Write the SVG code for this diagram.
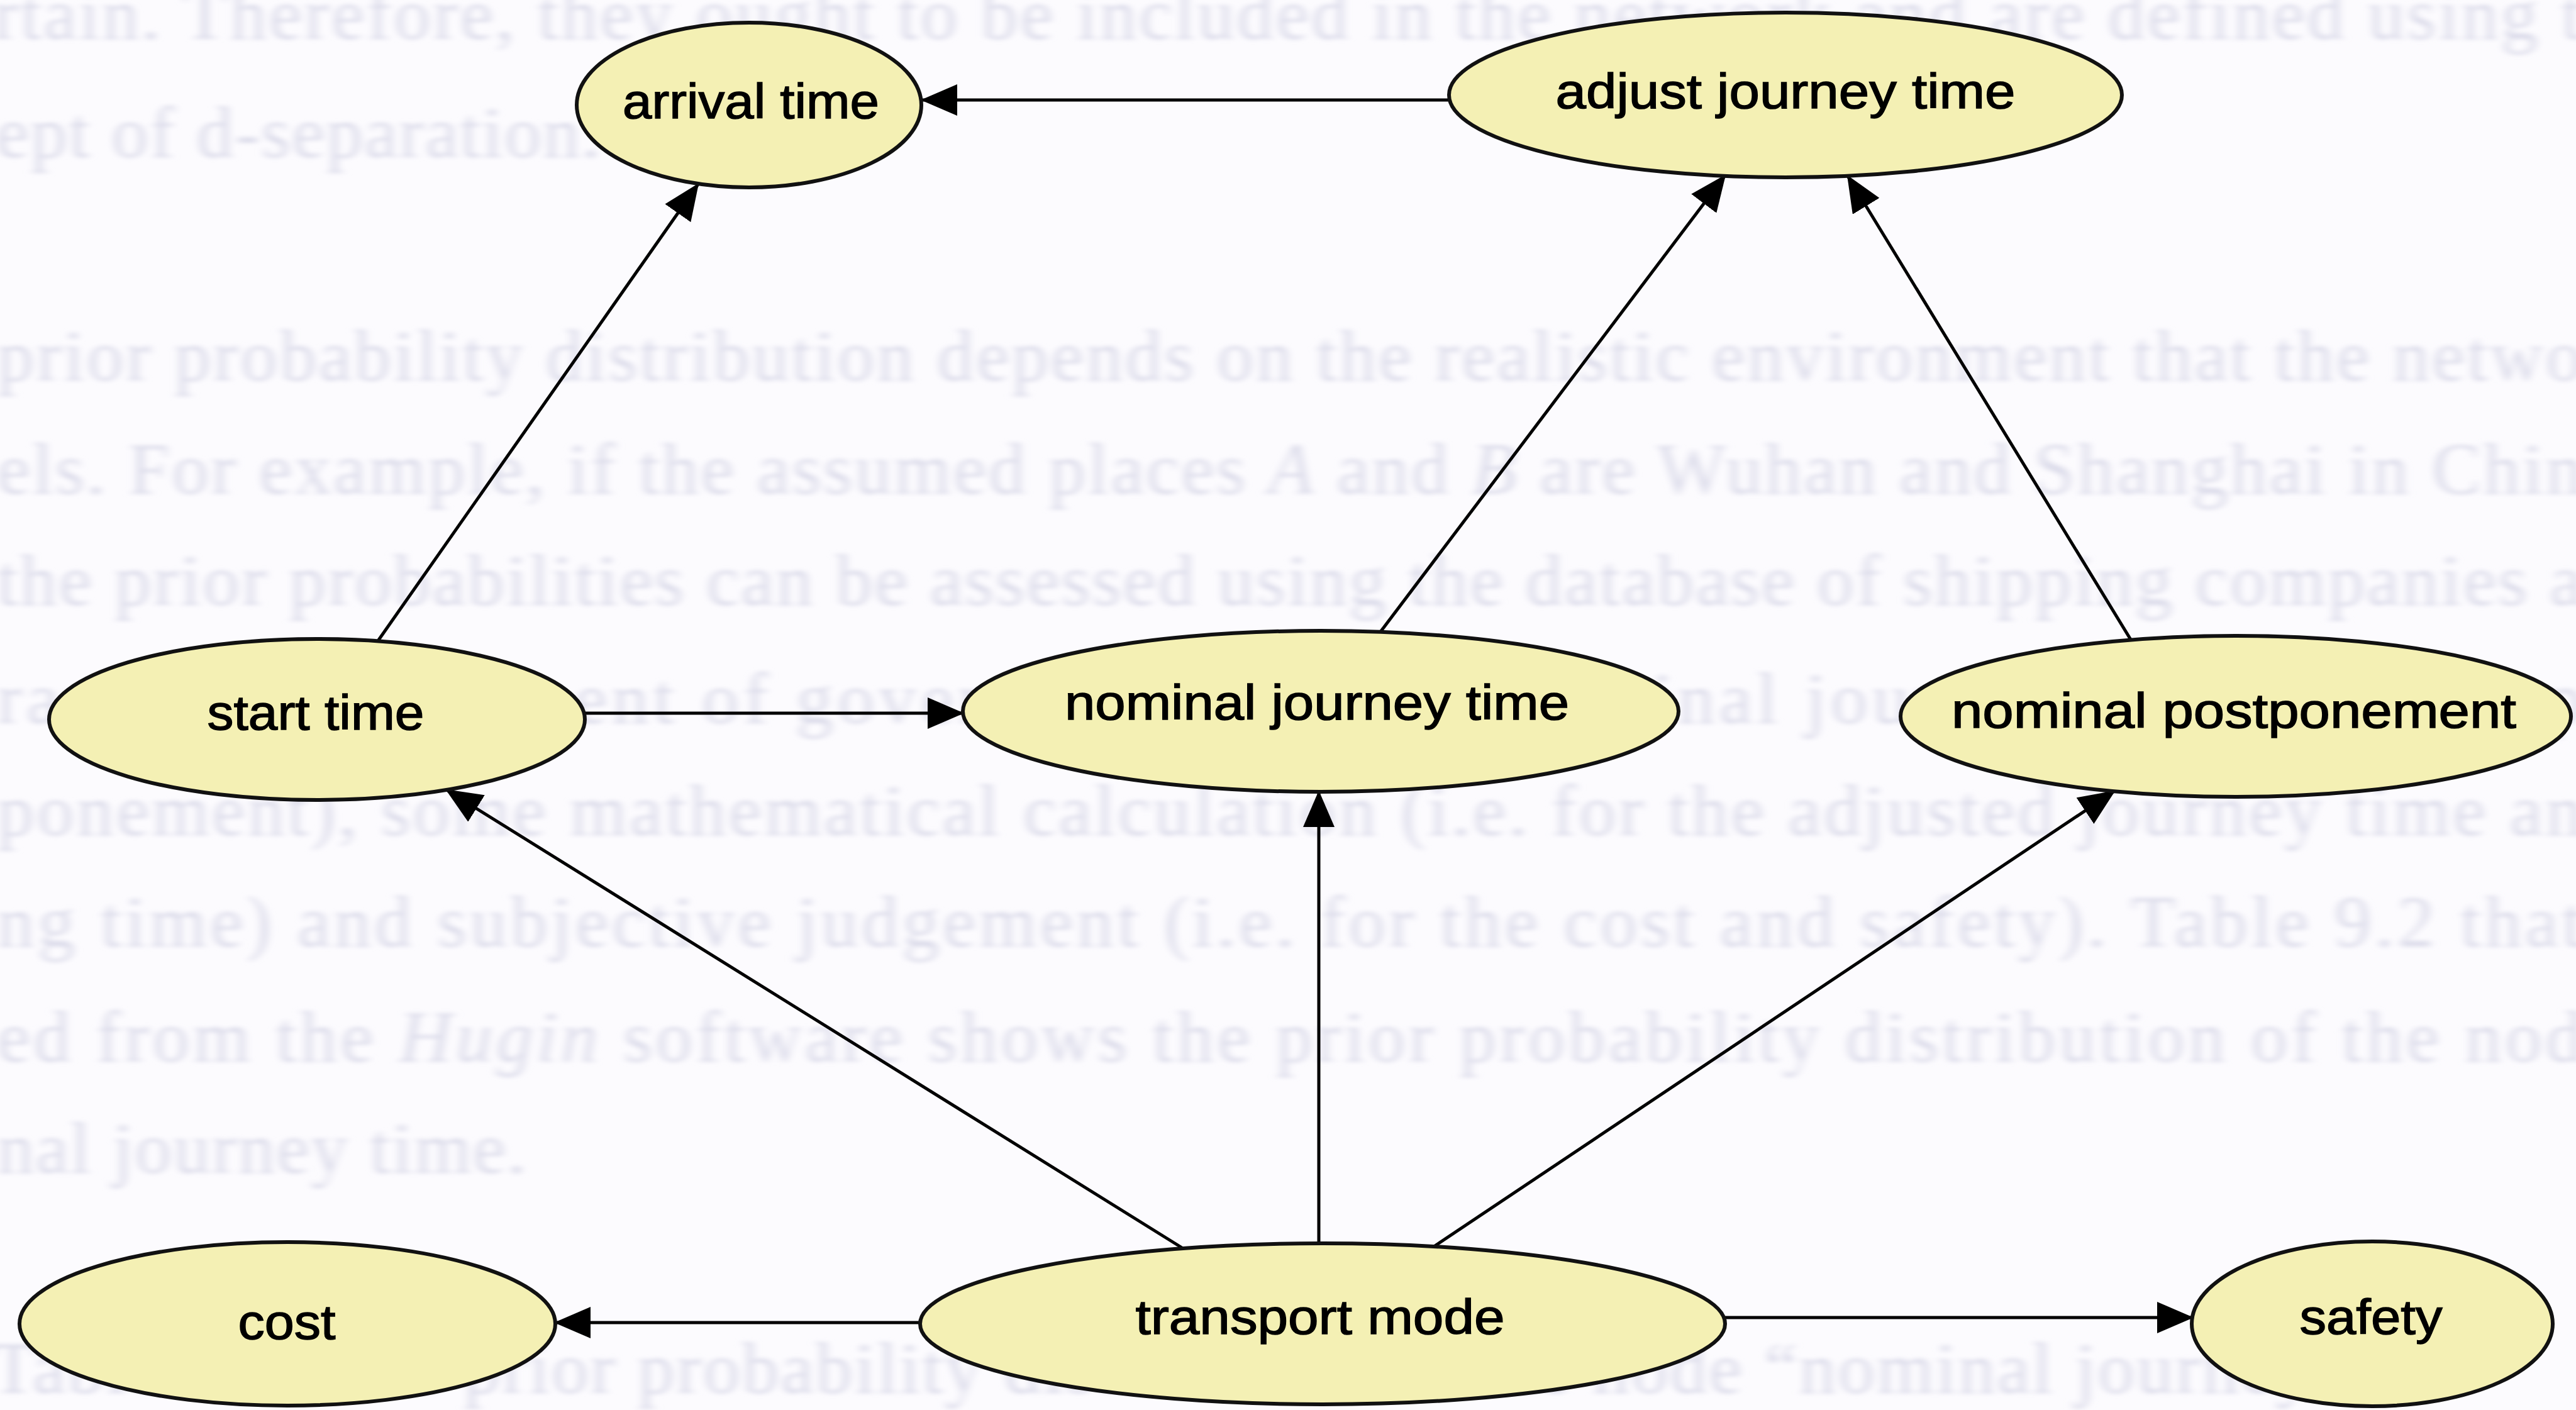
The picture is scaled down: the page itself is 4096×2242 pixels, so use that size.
<svg xmlns="http://www.w3.org/2000/svg" width="4096" height="2242" viewBox="0 0 4096 2242">
  <defs>
    <marker id="arrow" markerUnits="userSpaceOnUse" markerWidth="58" markerHeight="50" viewBox="0 0 58 50" refX="56" refY="25" orient="auto">
      <path d="M0,0 L58,25 L0,50 z" fill="#000"/>
    </marker>
    <filter id="soft" x="-5%" y="-20%" width="110%" height="140%">
      <feGaussianBlur stdDeviation="7 3"/>
    </filter>
  </defs>
  <style>
    .page { font-family: "Liberation Serif", "Times New Roman", serif; font-size: 116px; fill: #dcdcea; }
    .node ellipse { fill: #f4f0b4; stroke: #111; stroke-width: 6; }
    .node text { font-family: "Liberation Sans", Arial, sans-serif; font-size: 78px; fill: #000; stroke: #000; stroke-width: 1.5; text-anchor: middle; }
    .edge { stroke: #000; stroke-width: 5; fill: none; marker-end: url(#arrow); }
  </style>

  <rect width="4096" height="2242" fill="#fcfbfe"/>

  <!-- faint body text of the page behind the figure -->
  <g class="page" filter="url(#soft)">
    <text x="-10" y="62" textLength="4115" lengthAdjust="spacing">rtain. Therefore, they ought to be included in the network and are defined using t</text>
    <text x="-6" y="250" textLength="960" lengthAdjust="spacing">ept of d-separation.</text>
    <text x="-4" y="605" textLength="4110" lengthAdjust="spacing">prior probability distribution depends on the realistic environment that the netwo</text>
    <text x="-4" y="785" textLength="4110" lengthAdjust="spacing">els. For example, if the assumed places <tspan font-style="italic">A</tspan> and <tspan font-style="italic">B</tspan> are Wuhan and Shanghai in Chin</text>
    <text x="-4" y="962" textLength="4110" lengthAdjust="spacing">the prior probabilities can be assessed using the database of shipping companies a</text>
    <text x="-4" y="1150" textLength="4110" lengthAdjust="spacing">ransport department of government (i.e. the nominal journey time and postp</text>
    <text x="-4" y="1328" textLength="4110" lengthAdjust="spacing">ponement), some mathematical calculation (i.e. for the adjusted journey time an</text>
    <text x="-4" y="1505" textLength="4110" lengthAdjust="spacing">ng time) and subjective judgement (i.e. for the cost and safety). Table 9.2 that</text>
    <text x="-4" y="1688" textLength="4110" lengthAdjust="spacing">ed from the <tspan font-style="italic">Hugin</tspan> software shows the prior probability distribution of the nod</text>
    <text x="-4" y="1865" textLength="840" lengthAdjust="spacing">nal journey time.</text>
    <text x="-14" y="2215" textLength="4000" lengthAdjust="spacing">Table 9.2. The prior probability distribution of the node “nominal journey time”</text>
  </g>

  <!-- directed links -->
  <g id="connectors">
    <line class="edge" x1="2304" y1="159" x2="1466" y2="159" stroke-width="7"/>
    <line class="edge" x1="601" y1="1019" x2="1110" y2="293"/>
    <line class="edge" x1="929" y1="1134" x2="1531" y2="1134" stroke-width="6"/>
    <line class="edge" x1="2194" y1="1006" x2="2743" y2="279"/>
    <line class="edge" x1="3388" y1="1017" x2="2938" y2="280"/>
    <line class="edge" x1="1881" y1="1985" x2="710" y2="1256"/>
    <line class="edge" x1="2097" y1="1977" x2="2097" y2="1259"/>
    <line class="edge" x1="2280" y1="1982" x2="3362" y2="1258"/>
    <line class="edge" x1="1463" y1="2103" x2="883" y2="2103"/>
    <line class="edge" x1="2741" y1="2095" x2="3486" y2="2095"/>
  </g>

  <g id="arrival-time" class="node">
    <ellipse cx="1191" cy="167" rx="274" ry="131"/>
    <text x="1194" y="188" textLength="408" lengthAdjust="spacingAndGlyphs">arrival time</text>
  </g>
  <g id="adjust-journey-time" class="node">
    <ellipse cx="2839" cy="151" rx="535" ry="131"/>
    <text x="2839" y="172" textLength="731" lengthAdjust="spacingAndGlyphs">adjust journey time</text>
  </g>
  <g id="start-time" class="node">
    <ellipse cx="504" cy="1144" rx="426" ry="128"/>
    <text x="502" y="1160" textLength="345" lengthAdjust="spacingAndGlyphs">start time</text>
  </g>
  <g id="nominal-journey-time" class="node">
    <ellipse cx="2100" cy="1131" rx="569" ry="128"/>
    <text x="2094" y="1144" textLength="802" lengthAdjust="spacingAndGlyphs">nominal journey time</text>
  </g>
  <g id="nominal-postponement" class="node">
    <ellipse cx="3555" cy="1139" rx="533" ry="128"/>
    <text x="3552" y="1157" textLength="898" lengthAdjust="spacingAndGlyphs">nominal postponement</text>
  </g>
  <g id="cost" class="node">
    <ellipse cx="457" cy="2105" rx="426" ry="130"/>
    <text x="456" y="2129" textLength="155" lengthAdjust="spacingAndGlyphs">cost</text>
  </g>
  <g id="transport-mode" class="node">
    <ellipse cx="2103" cy="2105" rx="640" ry="128"/>
    <text x="2099" y="2121" textLength="587" lengthAdjust="spacingAndGlyphs">transport mode</text>
  </g>
  <g id="safety" class="node">
    <ellipse cx="3772" cy="2105" rx="287" ry="131"/>
    <text x="3770" y="2121" textLength="227" lengthAdjust="spacingAndGlyphs">safety</text>
  </g>
</svg>
